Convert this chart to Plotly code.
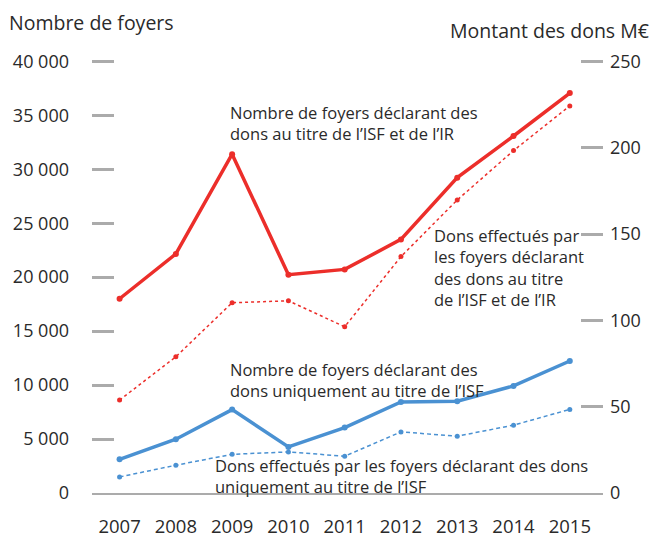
import plotly.graph_objects as go

years = ["2007", "2008", "2009", "2010", "2011", "2012", "2013", "2014", "2015"]
foyers_isf_ir = [18000, 22150, 31400, 20230, 20720, 23500, 29220, 33080, 37060]
dons_isf_ir = [53.8, 78.9, 110.2, 111.3, 96.3, 136.9, 169.7, 198.3, 224.2]
foyers_isf = [3120, 4980, 7730, 4270, 6060, 8430, 8500, 9920, 12230]
dons_isf = [9.3, 16.1, 22.4, 23.8, 21.3, 35.4, 32.9, 39.3, 48.4]

left_ticks = [0, 5000, 10000, 15000, 20000, 25000, 30000, 35000, 40000]
left_labels = ["0", "5 000", "10 000", "15 000", "20 000", "25 000", "30 000", "35 000", "40 000"]
right_ticks = [0, 50, 100, 150, 200, 250]
right_labels = ["0", "50", "100", "150", "200", "250"]

RED = "#EC2E2A"
BLUE = "#4A91D2"
GRAY = "#ABABAB"
TXT = "#2A2A2A"
FONT = "Open Sans"

fig = go.Figure()
fig.add_trace(go.Scatter(x=years, y=foyers_isf_ir, mode="lines+markers",
                         line=dict(color=RED, width=3.5), marker=dict(size=6, color=RED),
                         yaxis="y"))
fig.add_trace(go.Scatter(x=years, y=dons_isf_ir, mode="lines+markers",
                         line=dict(color=RED, width=1.5, dash="3px,3px"), marker=dict(size=5, color=RED),
                         yaxis="y2"))
fig.add_trace(go.Scatter(x=years, y=foyers_isf, mode="lines+markers",
                         line=dict(color=BLUE, width=3.5), marker=dict(size=6, color=BLUE),
                         yaxis="y"))
fig.add_trace(go.Scatter(x=years, y=dons_isf, mode="lines+markers",
                         line=dict(color=BLUE, width=1.5, dash="4px,3px"), marker=dict(size=5, color=BLUE),
                         yaxis="y2"))

ymax = 41050
fig.update_layout(
    width=654, height=537,
    margin=dict(l=92, r=51, t=50, b=44),
    paper_bgcolor="white", plot_bgcolor="white",
    showlegend=False,
    font=dict(family=FONT, color=TXT, size=16.5),
    xaxis=dict(type="category", range=[-0.49, 8.59], showgrid=False, zeroline=False,
               showline=True, linecolor=GRAY, linewidth=2, ticks="", automargin=False,
               tickfont=dict(size=18.5, color=TXT), ticklabelstandoff=16),
    yaxis=dict(range=[0, ymax], tickvals=left_ticks, ticktext=left_labels,
               showgrid=False, zeroline=False, showline=False, automargin=False,
               ticks="inside", ticklen=22, tickwidth=3, tickcolor=GRAY,
               tickfont=dict(size=18, color=TXT), ticklabelstandoff=22),
    yaxis2=dict(range=[0, ymax / 160], tickvals=right_ticks, ticktext=right_labels,
                overlaying="y", side="right", automargin=False,
                showgrid=False, zeroline=False, showline=False,
                ticks="inside", ticklen=22, tickwidth=3, tickcolor=GRAY,
                tickfont=dict(size=18, color=TXT), ticklabelstandoff=6),
)

annotations = [
    dict(text="Nombre de foyers", x=-0.166, y=1.061, xanchor="left", yanchor="middle",
         font=dict(size=19.5)),
    dict(text="Montant des dons M€", x=1.094, y=1.045, xanchor="right", yanchor="middle",
         font=dict(size=19.5)),
    dict(text="Nombre de foyers déclarant des<br>dons au titre de l’ISF et de l’IR",
         x=0.266, y=0.835, xanchor="left", yanchor="middle", align="left"),
    dict(text="Dons effectués par<br>les foyers déclarant<br>des dons au titre<br>de l’ISF et de l’IR",
         x=0.665, y=0.510, xanchor="left", yanchor="middle", align="left"),
    dict(text="Nombre de foyers déclarant des<br>dons uniquement au titre de l’ISF",
         x=0.266, y=0.256, xanchor="left", yanchor="middle", align="left"),
    dict(text="Dons effectués par les foyers déclarant des dons<br>uniquement au titre de l’ISF",
         x=0.237, y=0.038, xanchor="left", yanchor="middle", align="left"),
]
for a in annotations:
    a.update(xref="paper", yref="paper", showarrow=False)
    a.setdefault("font", dict(size=16.5))
    a["font"] = dict(family=FONT, color=TXT, **a["font"])
fig.update_layout(annotations=annotations)

fig.write_html("out.html")
